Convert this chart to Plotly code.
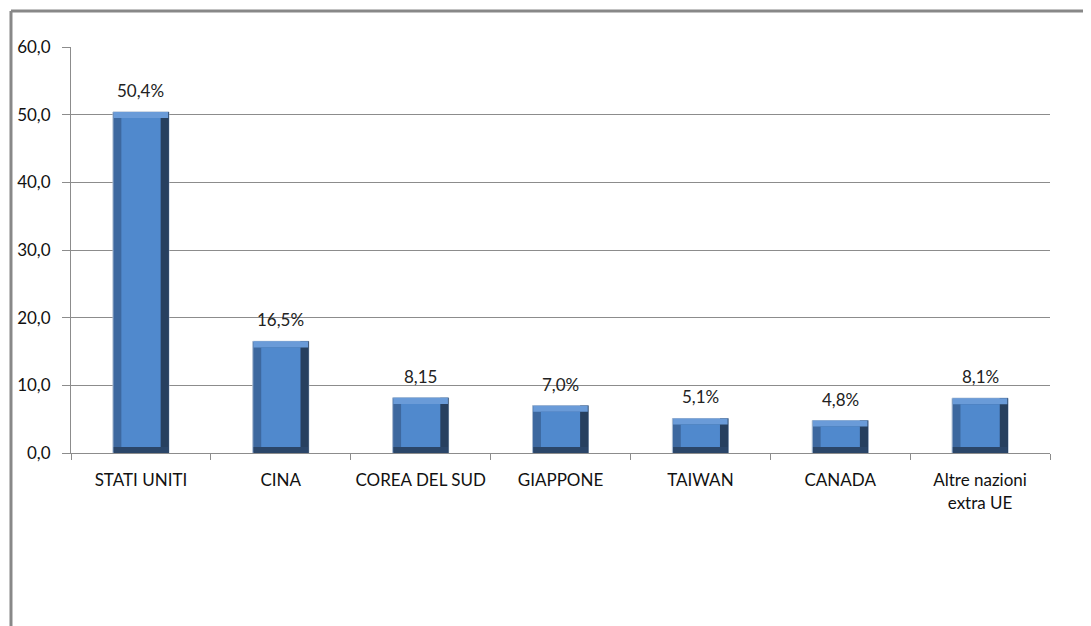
import plotly.graph_objects as go

# Export shares by destination (% of extra-UE total)
categories = ["STATI UNITI", "CINA", "COREA DEL SUD", "GIAPPONE", "TAIWAN", "CANADA",
              "Altre nazioni<br>extra UE"]
values = [50.4, 16.5, 8.15, 7.0, 5.1, 4.8, 8.1]
labels = ["50,4%", "16,5%", "8,15", "7,0%", "5,1%", "4,8%", "8,1%"]
y_ticks = [0, 10, 20, 30, 40, 50, 60]

FONT = "Lato, 'Open Sans', sans-serif"
GRID = "#8c8c8c"
BEVEL = 0.9      # bevel thickness in axis units
W = 0.4          # full bar width (category units)
FACE = 0.28      # front face width


def bevel_bar(y, base, width, color, offset=None):
    return go.Bar(x=categories, y=y, base=base, width=width, offset=offset,
                  marker=dict(color=color, line=dict(width=0)),
                  hoverinfo="skip", showlegend=False)


n = len(values)
fig = go.Figure()

# whole bar (left bevel colour)
fig.add_trace(go.Bar(
    x=categories, y=values, width=W,
    marker=dict(color="#3d689f", line=dict(color="#a9bad0", width=1)),
    hoverinfo="skip", showlegend=False
))
# right bevel (dark)
fig.add_trace(bevel_bar(values, [0] * n, W - FACE - 0.06, "#27405f", offset=FACE / 2))
# bottom bevel (dark)
fig.add_trace(bevel_bar([BEVEL] * n, [0] * n, W - 0.01, "#2b4669"))
# top bevel (light)
fig.add_trace(bevel_bar([BEVEL] * n, [v - BEVEL for v in values], W - 0.01, "#6a9bd8"))
# front face
fig.add_trace(bevel_bar([v - 2 * BEVEL for v in values], [BEVEL] * n, FACE, "#5089cd"))

# data labels above the bars
for cat, v, lab in zip(categories, values, labels):
    fig.add_annotation(x=cat, y=v, text=lab, showarrow=False, yanchor="bottom",
                       yshift=9, font=dict(family=FONT, size=17, color="#222222"))

fig.update_layout(
    width=1091, height=626,
    barmode="overlay",
    separators=",.",
    paper_bgcolor="white", plot_bgcolor="white",
    margin=dict(l=63, r=49, t=39, b=181, autoexpand=False),
    font=dict(family=FONT, size=17, color="#111111"),
    xaxis=dict(
        type="category", tickson="boundaries", ticks="outside", ticklen=6,
        tickcolor=GRID, showline=True, linecolor=GRID, linewidth=1,
        showgrid=False, tickfont=dict(size=17), tickangle=0,
        ticklabelstandoff=12, automargin=False
    ),
    yaxis=dict(
        range=[0, 60], tickvals=y_ticks, tickformat=".1f",
        ticks="outside", ticklen=8, tickcolor=GRID,
        showline=True, linecolor=GRID, linewidth=1,
        showgrid=True, gridcolor=GRID, gridwidth=1, zeroline=False,
        tickfont=dict(size=17), ticklabelstandoff=8, automargin=False
    ),
    shapes=[
        dict(type="line", xref="paper", yref="paper", x0=-0.0613, x1=1.1,
             y0=1.0887, y1=1.0887, line=dict(color="#888888", width=3)),
        dict(type="line", xref="paper", yref="paper", x0=-0.0613, x1=-0.0613,
             y0=-0.6, y1=1.0887, line=dict(color="#888888", width=3)),
    ],
)

fig.write_html("out.html")
